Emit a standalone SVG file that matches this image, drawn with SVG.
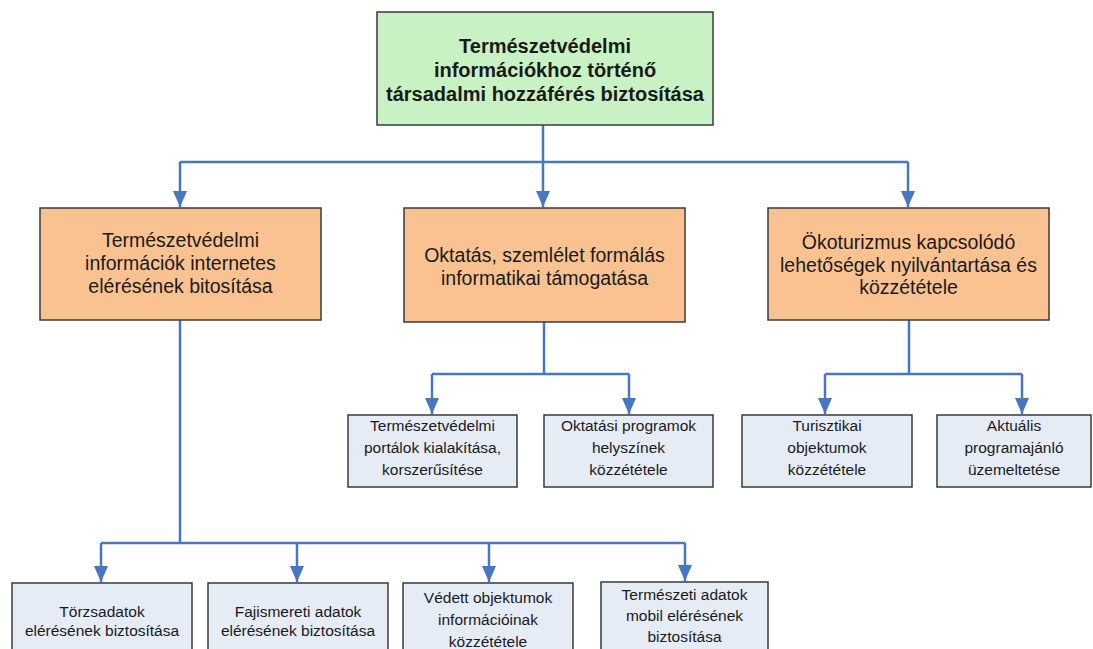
<svg xmlns="http://www.w3.org/2000/svg" width="1093" height="649" viewBox="0 0 1093 649">
  <defs>
    <marker id="arrow" markerWidth="17" markerHeight="14" refX="16" refY="7" orient="auto" markerUnits="userSpaceOnUse" viewBox="0 0 17 14">
      <path d="M0,0 L16,7 L0,14 Z" fill="#4677c0"/>
    </marker>
    <style>
      .root { fill: #c9f2c4; stroke: #3a3a3a; stroke-width: 1.5; }
      .main { fill: #f9c290; stroke: #3a3a3a; stroke-width: 1.5; }
      .leaf { fill: #e6ecf6; stroke: #3a3a3a; stroke-width: 1.5; }
      text { font-family: "Liberation Sans", Arial, sans-serif; fill: #1a1a1a; text-anchor: middle; }
      .t-root { font-size: 20px; font-weight: bold; }
      .t-main { font-size: 19.5px; }
      .t-leaf { font-size: 15.5px; }
      .conn path { fill: none; stroke: #4677c0; stroke-width: 2.5; }
    </style>
  </defs>
  <rect width="1093" height="649" fill="#ffffff"/>

  <!-- connectors -->
  <g id="connectors" class="conn">
    <path d="M543,125 V162"/>
    <path d="M180,162 H908"/>
    <path d="M180,162 V207" marker-end="url(#arrow)"/>
    <path d="M543,162 V207" marker-end="url(#arrow)"/>
    <path d="M908,162 V207" marker-end="url(#arrow)"/>

    <path d="M544,322 V374"/>
    <path d="M432,374 H629"/>
    <path d="M432,374 V414" marker-end="url(#arrow)"/>
    <path d="M629,374 V414" marker-end="url(#arrow)"/>

    <path d="M909,320 V374"/>
    <path d="M825,374 H1022"/>
    <path d="M825,374 V414" marker-end="url(#arrow)"/>
    <path d="M1022,374 V414" marker-end="url(#arrow)"/>

    <path d="M180,320 V543"/>
    <path d="M101,543 H685"/>
    <path d="M101,543 V582" marker-end="url(#arrow)"/>
    <path d="M297,543 V582" marker-end="url(#arrow)"/>
    <path d="M489,543 V582" marker-end="url(#arrow)"/>
    <path d="M685,543 V581" marker-end="url(#arrow)"/>
  </g>

  <!-- root -->
  <g id="node-root">
    <rect class="root" x="377" y="12" width="336" height="113"/>
    <text class="t-root" x="545" y="53">Természetvédelmi</text>
    <text class="t-root" x="545" y="77">információkhoz történő</text>
    <text class="t-root" x="545" y="101">társadalmi hozzáférés biztosítása</text>
  </g>

  <!-- second level -->
  <g id="node-internet">
    <rect class="main" x="40" y="208" width="281" height="112"/>
    <text class="t-main" x="180.5" y="247">Természetvédelmi</text>
    <text class="t-main" x="180.5" y="270">információk internetes</text>
    <text class="t-main" x="180.5" y="293">elérésének bitosítása</text>
  </g>
  <g id="node-oktatas">
    <rect class="main" x="404" y="208" width="281" height="114"/>
    <text class="t-main" x="544.5" y="262">Oktatás, szemlélet formálás</text>
    <text class="t-main" x="544.5" y="285">informatikai támogatása</text>
  </g>
  <g id="node-okoturizmus">
    <rect class="main" x="768" y="208" width="281" height="112"/>
    <text class="t-main" x="908.5" y="249">Ökoturizmus kapcsolódó</text>
    <text class="t-main" x="908.5" y="272">lehetőségek nyilvántartása és</text>
    <text class="t-main" x="908.5" y="294">közzététele</text>
  </g>

  <!-- leaves under education -->
  <g id="node-portalok">
    <rect class="leaf" x="348" y="415" width="169" height="72"/>
    <text class="t-leaf" x="432.5" y="431">Természetvédelmi</text>
    <text class="t-leaf" x="432.5" y="453">portálok kialakítása,</text>
    <text class="t-leaf" x="432.5" y="475">korszerűsítése</text>
  </g>
  <g id="node-oktatasi-programok">
    <rect class="leaf" x="544" y="415" width="169" height="72"/>
    <text class="t-leaf" x="628.5" y="431">Oktatási programok</text>
    <text class="t-leaf" x="628.5" y="453">helyszínek</text>
    <text class="t-leaf" x="628.5" y="475">közzététele</text>
  </g>

  <!-- leaves under ecotourism -->
  <g id="node-turisztikai">
    <rect class="leaf" x="742" y="415" width="170" height="72"/>
    <text class="t-leaf" x="827" y="431">Turisztikai</text>
    <text class="t-leaf" x="827" y="453">objektumok</text>
    <text class="t-leaf" x="827" y="475">közzététele</text>
  </g>
  <g id="node-programajanlo">
    <rect class="leaf" x="937" y="415" width="154" height="72"/>
    <text class="t-leaf" x="1014" y="431">Aktuális</text>
    <text class="t-leaf" x="1014" y="453">programajánló</text>
    <text class="t-leaf" x="1014" y="475">üzemeltetése</text>
  </g>

  <!-- leaves under internet access -->
  <g id="node-torzsadatok">
    <rect class="leaf" x="12" y="583" width="180" height="80"/>
    <text class="t-leaf" x="102" y="617">Törzsadatok</text>
    <text class="t-leaf" x="102" y="636">elérésének biztosítása</text>
  </g>
  <g id="node-fajismereti">
    <rect class="leaf" x="208" y="583" width="180" height="80"/>
    <text class="t-leaf" x="298" y="617">Fajismereti adatok</text>
    <text class="t-leaf" x="298" y="636">elérésének biztosítása</text>
  </g>
  <g id="node-vedett">
    <rect class="leaf" x="403" y="583" width="170" height="80"/>
    <text class="t-leaf" x="488" y="603">Védett objektumok</text>
    <text class="t-leaf" x="488" y="625">információinak</text>
    <text class="t-leaf" x="488" y="647">közzététele</text>
  </g>
  <g id="node-mobil">
    <rect class="leaf" x="601" y="582" width="167" height="80"/>
    <text class="t-leaf" x="684.5" y="600">Természeti adatok</text>
    <text class="t-leaf" x="684.5" y="621">mobil elérésének</text>
    <text class="t-leaf" x="684.5" y="642">biztosítása</text>
  </g>
</svg>
